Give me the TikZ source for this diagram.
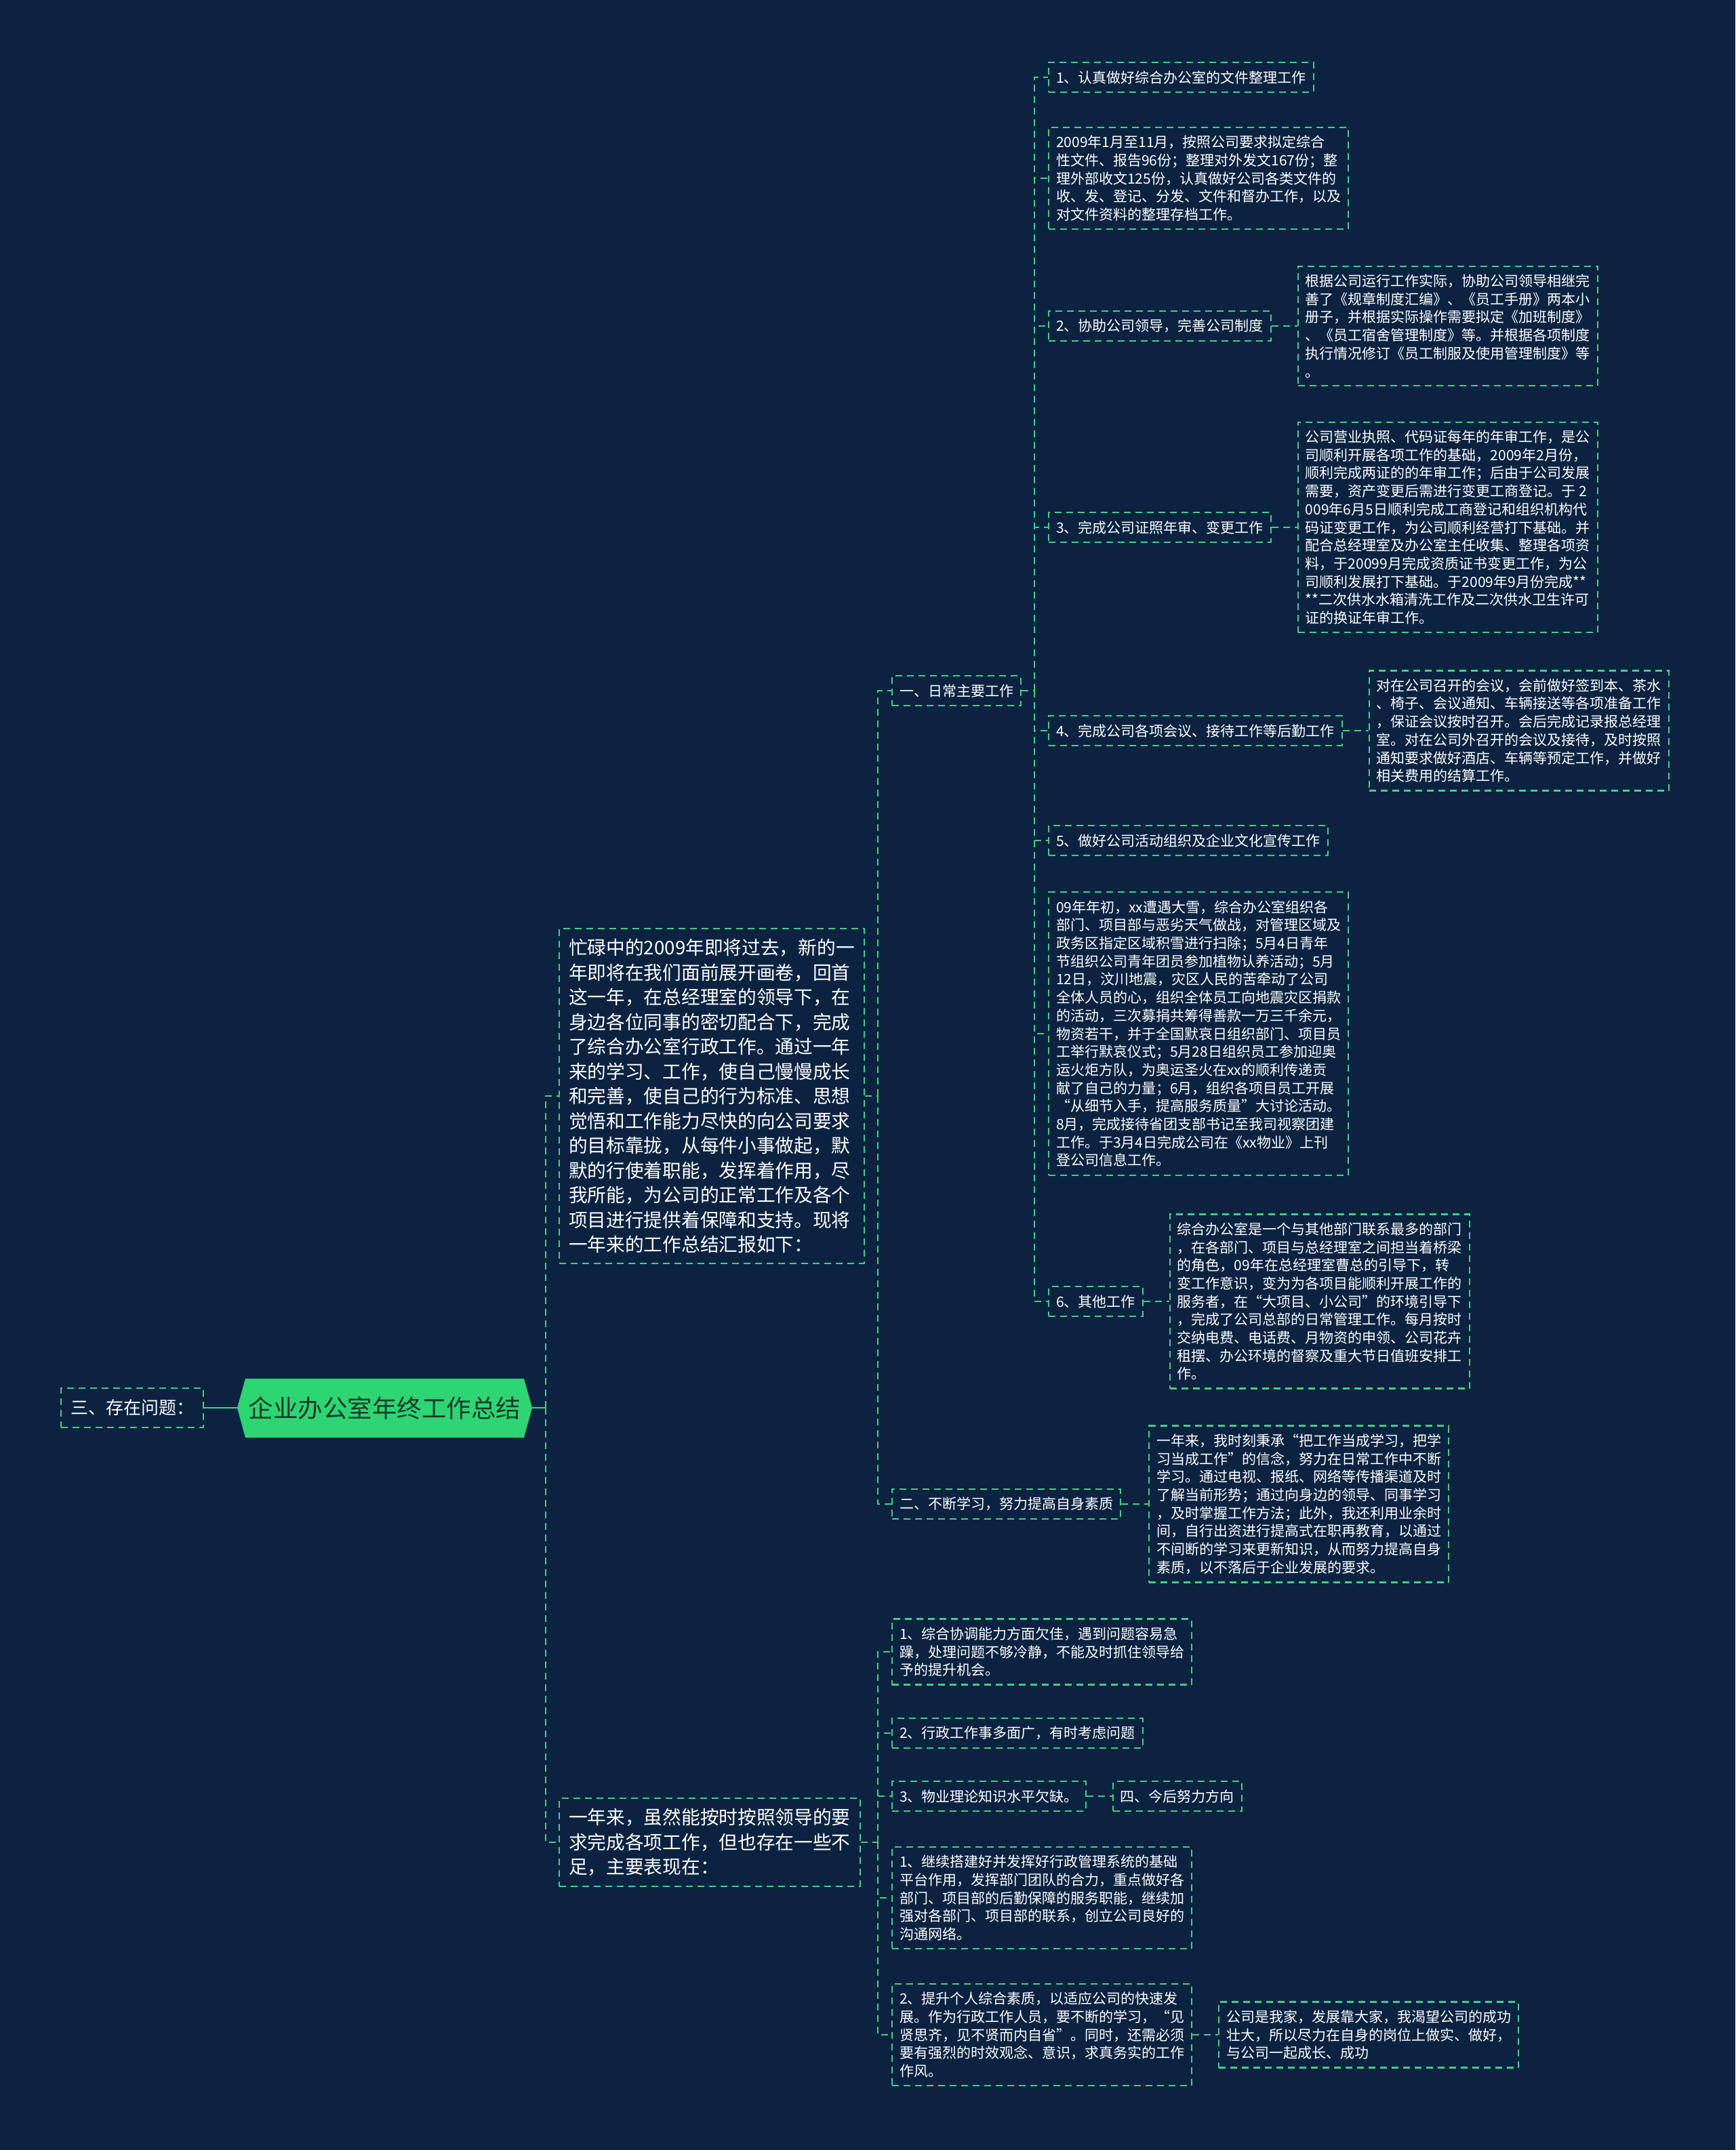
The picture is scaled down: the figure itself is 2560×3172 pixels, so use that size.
\documentclass[tikz,border=0pt]{standalone}
\usepackage{fontspec}
\setmainfont{Noto Sans CJK SC}
\usetikzlibrary{positioning}

\definecolor{bgnavy}{HTML}{0B2341}
\definecolor{leafgreen}{HTML}{43CF80}
\definecolor{rootgreen}{HTML}{2ED573}
\definecolor{rootink}{HTML}{173A28}

\newcommand{\txtsmall}{\fontsize{21}{26.7}\selectfont}
\newcommand{\txtbig}{\fontsize{27.7}{36.5}\selectfont}
\newcommand{\txtroot}{\fontsize{36.5}{42}\selectfont}

\tikzset{
  box/.style={draw=leafgreen, line width=2.2pt, dash pattern=on 10pt off 7pt,
    text=white, font=\txtsmall, align=left, inner xsep=11pt, inner ysep=12pt, anchor=west},
  bigbox/.style={box, font=\txtbig, inner xsep=14pt, inner ysep=15pt},
  link/.style={draw=leafgreen, line width=2.2pt, dash pattern=on 10pt off 7pt},
}

\begin{document}
\begin{tikzpicture}[x=1pt, y=-1pt]
  \useasboundingbox (0,0) rectangle (2560,3172);
  \fill[bgnavy] (0,0) rectangle (2560,3172);

  % root
  \fill[rootgreen] (362,2034) -- (773,2034) -- (785,2077) -- (773,2121)
    -- (362,2121) -- (350,2077) -- cycle;
  \node[text=rootink, font=\txtroot, minimum width=435pt, minimum height=87pt,
    inner sep=0pt] (root) at (567.5,2077) {企业办公室年终工作总结};
  \node[box, font=\fontsize{26}{30}\selectfont, inner xsep=14pt, inner ysep=17pt] (san) at (89,2077) {三、存在问题：};

  % level 1
  \node[bigbox] (intro) at (824,1617) {忙碌中的2009年即将过去，新的一\\年即将在我们面前展开画卷，回首\\这一年，在总经理室的领导下，在\\身边各位同事的密切配合下，完成\\了综合办公室行政工作。通过一年\\来的学习、工作，使自己慢慢成长\\和完善，使自己的行为标准、思想\\觉悟和工作能力尽快的向公司要求\\的目标靠拢，从每件小事做起，默\\默的行使着职能，发挥着作用，尽\\我所能，为公司的正常工作及各个\\项目进行提供着保障和支持。现将\\一年来的工作总结汇报如下：};
  \node[bigbox] (lack) at (824,2718) {一年来，虽然能按时按照领导的要\\求完成各项工作，但也存在一些不\\足，主要表现在：};

  % level 2
  \node[box] (daily) at (1315,1019) {一、日常主要工作};
  \node[box] (study) at (1315,2219) {二、不断学习，努力提高自身素质};
  \node[box, right=40pt of study] (studytxt) {一年来，我时刻秉承“把工作当成学习，把学\\习当成工作”的信念，努力在日常工作中不断\\学习。通过电视、报纸、网络等传播渠道及时\\了解当前形势；通过向身边的领导、同事学习\\，及时掌握工作方法；此外，我还利用业余时\\间，自行出资进行提高式在职再教育，以通过\\不间断的学习来更新知识，从而努力提高自身\\素质，以不落后于企业发展的要求。};

  % daily work items
  \node[box] (file) at (1546,114) {1、认真做好综合办公室的文件整理工作};
  \node[box] (filetxt) at (1546,263) {2009年1月至11月，按照公司要求拟定综合\\性文件、报告96份；整理对外发文167份；整\\理外部收文125份，认真做好公司各类文件的\\收、发、登记、分发、文件和督办工作，以及\\对文件资料的整理存档工作。};
  \node[box] (rules) at (1546,481) {2、协助公司领导，完善公司制度};
  \node[box, right=38pt of rules] (rulestxt) {根据公司运行工作实际，协助公司领导相继完\\善了《规章制度汇编》、《员工手册》两本小\\册子，并根据实际操作需要拟定《加班制度》\\、《员工宿舍管理制度》等。并根据各项制度\\执行情况修订《员工制服及使用管理制度》等\\。};
  \node[box] (licence) at (1546,778) {3、完成公司证照年审、变更工作};
  \node[box, right=38pt of licence] (licencetxt) {公司营业执照、代码证每年的年审工作，是公\\司顺利开展各项工作的基础，2009年2月份，\\顺利完成两证的的年审工作；后由于公司发展\\需要，资产变更后需进行变更工商登记。于 2\\009年6月5日顺利完成工商登记和组织机构代\\码证变更工作，为公司顺利经营打下基础。并\\配合总经理室及办公室主任收集、整理各项资\\料，于20099月完成资质证书变更工作，为公\\司顺利发展打下基础。于2009年9月份完成**\\**二次供水水箱清洗工作及二次供水卫生许可\\证的换证年审工作。};
  \node[box] (meeting) at (1546,1078) {4、完成公司各项会议、接待工作等后勤工作};
  \node[box, right=38pt of meeting] (meetingtxt) {对在公司召开的会议，会前做好签到本、茶水\\、椅子、会议通知、车辆接送等各项准备工作\\，保证会议按时召开。会后完成记录报总经理\\室。对在公司外召开的会议及接待，及时按照\\通知要求做好酒店、车辆等预定工作，并做好\\相关费用的结算工作。};
  \node[box] (culture) at (1546,1240) {5、做好公司活动组织及企业文化宣传工作};
  \node[box] (culturetxt) at (1546,1525) {09年年初，xx遭遇大雪，综合办公室组织各\\部门、项目部与恶劣天气做战，对管理区域及\\政务区指定区域积雪进行扫除；5月4日青年\\节组织公司青年团员参加植物认养活动；5月\\12日，汶川地震，灾区人民的苦牵动了公司\\全体人员的心，组织全体员工向地震灾区捐款\\的活动，三次募捐共筹得善款一万三千余元，\\物资若干，并于全国默哀日组织部门、项目员\\工举行默哀仪式；5月28日组织员工参加迎奥\\运火炬方队，为奥运圣火在xx的顺利传递贡\\献了自己的力量；6月，组织各项目员工开展\\“从细节入手，提高服务质量”大讨论活动。\\8月，完成接待省团支部书记至我司视察团建\\工作。于3月4日完成公司在《xx物业》上刊\\登公司信息工作。};
  \node[box] (other) at (1546,1920) {6、其他工作};
  \node[box, right=38pt of other] (othertxt) {综合办公室是一个与其他部门联系最多的部门\\，在各部门、项目与总经理室之间担当着桥梁\\的角色，09年在总经理室曹总的引导下，转\\变工作意识，变为为各项目能顺利开展工作的\\服务者，在“大项目、小公司”的环境引导下\\，完成了公司总部的日常管理工作。每月按时\\交纳电费、电话费、月物资的申领、公司花卉\\租摆、办公环境的督察及重大节日值班安排工\\作。};

  % shortcomings and plans
  \node[box] (coord) at (1315,2437) {1、综合协调能力方面欠佳，遇到问题容易急\\躁，处理问题不够冷静，不能及时抓住领导给\\予的提升机会。};
  \node[box] (admin) at (1315,2557) {2、行政工作事多面广，有时考虑问题};
  \node[box] (theory) at (1315,2650) {3、物业理论知识水平欠缺。};
  \node[box, right=38pt of theory] (future) {四、今后努力方向};
  \node[box] (platform) at (1315,2800) {1、继续搭建好并发挥好行政管理系统的基础\\平台作用，发挥部门团队的合力，重点做好各\\部门、项目部的后勤保障的服务职能，继续加\\强对各部门、项目部的联系，创立公司良好的\\沟通网络。};
  \node[box] (quality) at (1315,3002) {2、提升个人综合素质，以适应公司的快速发\\展。作为行政工作人员，要不断的学习，“见\\贤思齐，见不贤而内自省”。同时，还需必须\\要有强烈的时效观念、意识，求真务实的工作\\作风。};
  \node[box, right=38pt of quality] (qualitytxt) {公司是我家，发展靠大家，我渴望公司的成功\\壮大，所以尽力在自身的岗位上做实、做好，\\与公司一起成长、成功};

  % junctions
  \coordinate (j0) at (805,2077);
  \coordinate (j1) at (1295,1617);
  \coordinate (j2) at (1526,1019);
  \coordinate (j3) at (1295,2718);

  % connectors
  \draw[draw=leafgreen, line width=2.5pt] (san.east) -- (root.west);
  \draw[draw=leafgreen, line width=2.5pt] (root.east) -- (j0);
  \foreach \n in {intro,lack}
    \draw[link] (j0) |- (\n.west);
  \draw[link] (intro.east) -- (j1);
  \foreach \n in {daily,study}
    \draw[link] (j1) |- (\n.west);
  \draw[link] (daily.east) -- (j2);
  \foreach \n in {file,filetxt,rules,licence,meeting,culture,culturetxt,other}
    \draw[link] (j2) |- (\n.west);
  \draw[link] (lack.east) -- (j3);
  \foreach \n in {coord,admin,theory,platform,quality}
    \draw[link] (j3) |- (\n.west);
  \draw[link] (rules.east) -- (rulestxt.west);
  \draw[link] (licence.east) -- (licencetxt.west);
  \draw[link] (meeting.east) -- (meetingtxt.west);
  \draw[link] (other.east) -- (othertxt.west);
  \draw[link] (study.east) -- (studytxt.west);
  \draw[link] (theory.east) -- (future.west);
  \draw[link] (quality.east) -- (qualitytxt.west);
\end{tikzpicture}
\end{document}
